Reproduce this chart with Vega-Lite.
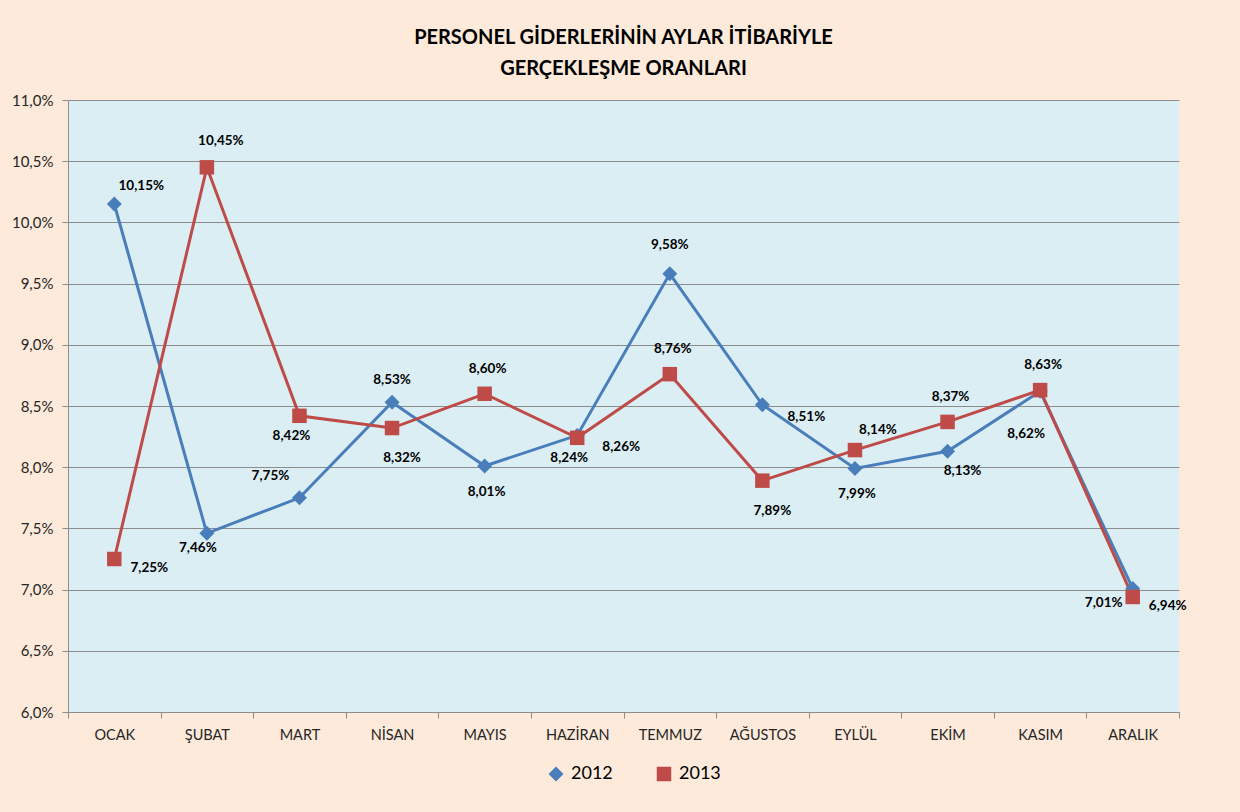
{
  "$schema": "https://vega.github.io/schema/vega-lite/v6.json",
  "width": 1111,
  "height": 612,
  "autosize": {"type": "none"},
  "padding": {"left": 68, "top": 100, "right": 61, "bottom": 100},
  "background": "#FDEADA",
  "title": {
    "text": ["PERSONEL GİDERLERİNİN AYLAR İTİBARİYLE", "GERÇEKLEŞME ORANLARI"],
    "font": "Lato", "fontSize": 20, "fontWeight": "bold", "lineHeight": 31,
    "offset": 14, "anchor": "middle", "color": "#000000"
  },
  "data": {
    "values": [
      {"ay": "OCAK", "yil": "2012", "oran": 10.15},
      {"ay": "ŞUBAT", "yil": "2012", "oran": 7.46},
      {"ay": "MART", "yil": "2012", "oran": 7.75},
      {"ay": "NİSAN", "yil": "2012", "oran": 8.53},
      {"ay": "MAYIS", "yil": "2012", "oran": 8.01},
      {"ay": "HAZİRAN", "yil": "2012", "oran": 8.26},
      {"ay": "TEMMUZ", "yil": "2012", "oran": 9.58},
      {"ay": "AĞUSTOS", "yil": "2012", "oran": 8.51},
      {"ay": "EYLÜL", "yil": "2012", "oran": 7.99},
      {"ay": "EKİM", "yil": "2012", "oran": 8.13},
      {"ay": "KASIM", "yil": "2012", "oran": 8.62},
      {"ay": "ARALIK", "yil": "2012", "oran": 7.01},
      {"ay": "OCAK", "yil": "2013", "oran": 7.25},
      {"ay": "ŞUBAT", "yil": "2013", "oran": 10.45},
      {"ay": "MART", "yil": "2013", "oran": 8.42},
      {"ay": "NİSAN", "yil": "2013", "oran": 8.32},
      {"ay": "MAYIS", "yil": "2013", "oran": 8.60},
      {"ay": "HAZİRAN", "yil": "2013", "oran": 8.24},
      {"ay": "TEMMUZ", "yil": "2013", "oran": 8.76},
      {"ay": "AĞUSTOS", "yil": "2013", "oran": 7.89},
      {"ay": "EYLÜL", "yil": "2013", "oran": 8.14},
      {"ay": "EKİM", "yil": "2013", "oran": 8.37},
      {"ay": "KASIM", "yil": "2013", "oran": 8.63},
      {"ay": "ARALIK", "yil": "2013", "oran": 6.94}
    ]
  },
  "transform": [
    {"calculate": "replace(format(datum.oran, '.2f'), '.', ',') + '%'", "as": "label"}
  ],
  "encoding": {
    "x": {
      "field": "ay", "type": "nominal",
      "sort": ["OCAK", "ŞUBAT", "MART", "NİSAN", "MAYIS", "HAZİRAN", "TEMMUZ", "AĞUSTOS", "EYLÜL", "EKİM", "KASIM", "ARALIK"],
      "scale": {"paddingInner": 0, "paddingOuter": 0},
      "axis": {
        "title": null, "labelAngle": 0, "tickBand": "extent", "grid": false,
        "domainColor": "#8C8C8C", "tickColor": "#8C8C8C", "tickSize": 6,
        "labelFont": "Lato", "labelFontSize": 14.5, "labelColor": "#262626", "labelPadding": 10
      }
    },
    "y": {
      "field": "oran", "type": "quantitative",
      "scale": {"domain": [6, 11], "zero": false},
      "axis": {
        "title": null,
        "values": [6, 6.5, 7, 7.5, 8, 8.5, 9, 9.5, 10, 10.5, 11],
        "labelExpr": "replace(format(datum.value, '.1f'), '.', ',') + '%'",
        "grid": true, "gridColor": "#8C8C8C", "gridWidth": 1,
        "domainColor": "#8C8C8C", "tickColor": "#8C8C8C", "tickSize": 6,
        "labelFont": "Lato", "labelFontSize": 15, "labelColor": "#262626", "labelPadding": 9
      }
    }
  },
  "layer": [
    {
      "mark": {"type": "line", "strokeWidth": 3},
      "encoding": {
        "color": {"field": "yil", "type": "nominal", "scale": {"domain": ["2012", "2013"], "range": ["#4A7EBB", "#BE4B48"]}}
      }
    },
    {
      "mark": {"type": "point", "filled": true, "opacity": 1},
      "encoding": {
        "color": {"field": "yil", "type": "nominal", "scale": {"domain": ["2012", "2013"], "range": ["#4A7EBB", "#BE4B48"]},
          "legend": {"title": null, "orient": "none", "legendX": 479, "legendY": 665, "direction": "horizontal", "labelFont": "Lato", "labelFontSize": 18, "labelColor": "#000000", "symbolSize": 210, "columnPadding": 42, "symbolStrokeWidth": 0, "labelOffset": 6}},
        "shape": {"field": "yil", "type": "nominal", "scale": {"domain": ["2012", "2013"], "range": ["diamond", "square"]}},
        "size": {"field": "yil", "type": "nominal", "scale": {"domain": ["2012", "2013"], "range": [225, 210]}, "legend": null}
      }
    },
    {"transform": [{"filter": {"and": [{"field": "yil", "equal": "2012"}, {"field": "ay", "oneOf": ["OCAK"]}]}}],
     "mark": {"type": "text", "dx": 27, "dy": -18, "font": "Lato", "fontWeight": "bold", "fontSize": 13.5, "color": "#000000"}, "encoding": {"text": {"field": "label"}}},
    {"transform": [{"filter": {"and": [{"field": "yil", "equal": "2012"}, {"field": "ay", "oneOf": ["ŞUBAT"]}]}}],
     "mark": {"type": "text", "dx": -9, "dy": 15, "font": "Lato", "fontWeight": "bold", "fontSize": 13.5, "color": "#000000"}, "encoding": {"text": {"field": "label"}}},
    {"transform": [{"filter": {"and": [{"field": "yil", "equal": "2012"}, {"field": "ay", "oneOf": ["MART"]}]}}],
     "mark": {"type": "text", "dx": -29, "dy": -22, "font": "Lato", "fontWeight": "bold", "fontSize": 13.5, "color": "#000000"}, "encoding": {"text": {"field": "label"}}},
    {"transform": [{"filter": {"and": [{"field": "yil", "equal": "2012"}, {"field": "ay", "oneOf": ["NİSAN"]}]}}],
     "mark": {"type": "text", "dx": 0, "dy": -22, "font": "Lato", "fontWeight": "bold", "fontSize": 13.5, "color": "#000000"}, "encoding": {"text": {"field": "label"}}},
    {"transform": [{"filter": {"and": [{"field": "yil", "equal": "2012"}, {"field": "ay", "oneOf": ["TEMMUZ"]}]}}],
     "mark": {"type": "text", "dx": 0, "dy": -29, "font": "Lato", "fontWeight": "bold", "fontSize": 13.5, "color": "#000000"}, "encoding": {"text": {"field": "label"}}},
    {"transform": [{"filter": {"and": [{"field": "yil", "equal": "2012"}, {"field": "ay", "oneOf": ["MAYIS", "EYLÜL"]}]}}],
     "mark": {"type": "text", "dx": 2, "dy": 26, "font": "Lato", "fontWeight": "bold", "fontSize": 13.5, "color": "#000000"}, "encoding": {"text": {"field": "label"}}},
    {"transform": [{"filter": {"and": [{"field": "yil", "equal": "2012"}, {"field": "ay", "oneOf": ["HAZİRAN", "AĞUSTOS"]}]}}],
     "mark": {"type": "text", "dx": 44, "dy": 12, "font": "Lato", "fontWeight": "bold", "fontSize": 13.5, "color": "#000000"}, "encoding": {"text": {"field": "label"}}},
    {"transform": [{"filter": {"and": [{"field": "yil", "equal": "2012"}, {"field": "ay", "oneOf": ["EKİM"]}]}}],
     "mark": {"type": "text", "dx": 15, "dy": 20, "font": "Lato", "fontWeight": "bold", "fontSize": 13.5, "color": "#000000"}, "encoding": {"text": {"field": "label"}}},
    {"transform": [{"filter": {"and": [{"field": "yil", "equal": "2012"}, {"field": "ay", "oneOf": ["KASIM"]}]}}],
     "mark": {"type": "text", "dx": -14, "dy": 43, "font": "Lato", "fontWeight": "bold", "fontSize": 13.5, "color": "#000000"}, "encoding": {"text": {"field": "label"}}},
    {"transform": [{"filter": {"and": [{"field": "yil", "equal": "2012"}, {"field": "ay", "oneOf": ["ARALIK"]}]}}],
     "mark": {"type": "text", "dx": -29, "dy": 15, "font": "Lato", "fontWeight": "bold", "fontSize": 13.5, "color": "#000000"}, "encoding": {"text": {"field": "label"}}},
    {"transform": [{"filter": {"and": [{"field": "yil", "equal": "2013"}, {"field": "ay", "oneOf": ["OCAK", "ARALIK"]}]}}],
     "mark": {"type": "text", "dx": 35, "dy": 9, "font": "Lato", "fontWeight": "bold", "fontSize": 13.5, "color": "#000000"}, "encoding": {"text": {"field": "label"}}},
    {"transform": [{"filter": {"and": [{"field": "yil", "equal": "2013"}, {"field": "ay", "oneOf": ["ŞUBAT"]}]}}],
     "mark": {"type": "text", "dx": 14, "dy": -26, "font": "Lato", "fontWeight": "bold", "fontSize": 13.5, "color": "#000000"}, "encoding": {"text": {"field": "label"}}},
    {"transform": [{"filter": {"and": [{"field": "yil", "equal": "2013"}, {"field": "ay", "oneOf": ["MART", "HAZİRAN"]}]}}],
     "mark": {"type": "text", "dx": -8, "dy": 20, "font": "Lato", "fontWeight": "bold", "fontSize": 13.5, "color": "#000000"}, "encoding": {"text": {"field": "label"}}},
    {"transform": [{"filter": {"and": [{"field": "yil", "equal": "2013"}, {"field": "ay", "oneOf": ["NİSAN", "AĞUSTOS"]}]}}],
     "mark": {"type": "text", "dx": 10, "dy": 30, "font": "Lato", "fontWeight": "bold", "fontSize": 13.5, "color": "#000000"}, "encoding": {"text": {"field": "label"}}},
    {"transform": [{"filter": {"and": [{"field": "yil", "equal": "2013"}, {"field": "ay", "oneOf": ["MAYIS", "TEMMUZ", "EKİM", "KASIM"]}]}}],
     "mark": {"type": "text", "dx": 3, "dy": -25, "font": "Lato", "fontWeight": "bold", "fontSize": 13.5, "color": "#000000"}, "encoding": {"text": {"field": "label"}}},
    {"transform": [{"filter": {"and": [{"field": "yil", "equal": "2013"}, {"field": "ay", "oneOf": ["EYLÜL"]}]}}],
     "mark": {"type": "text", "dx": 23, "dy": -20, "font": "Lato", "fontWeight": "bold", "fontSize": 13.5, "color": "#000000"}, "encoding": {"text": {"field": "label"}}}
  ],
  "config": {
    "view": {"fill": "#DBEEF4", "stroke": null},
    "font": "Lato"
  }
}
